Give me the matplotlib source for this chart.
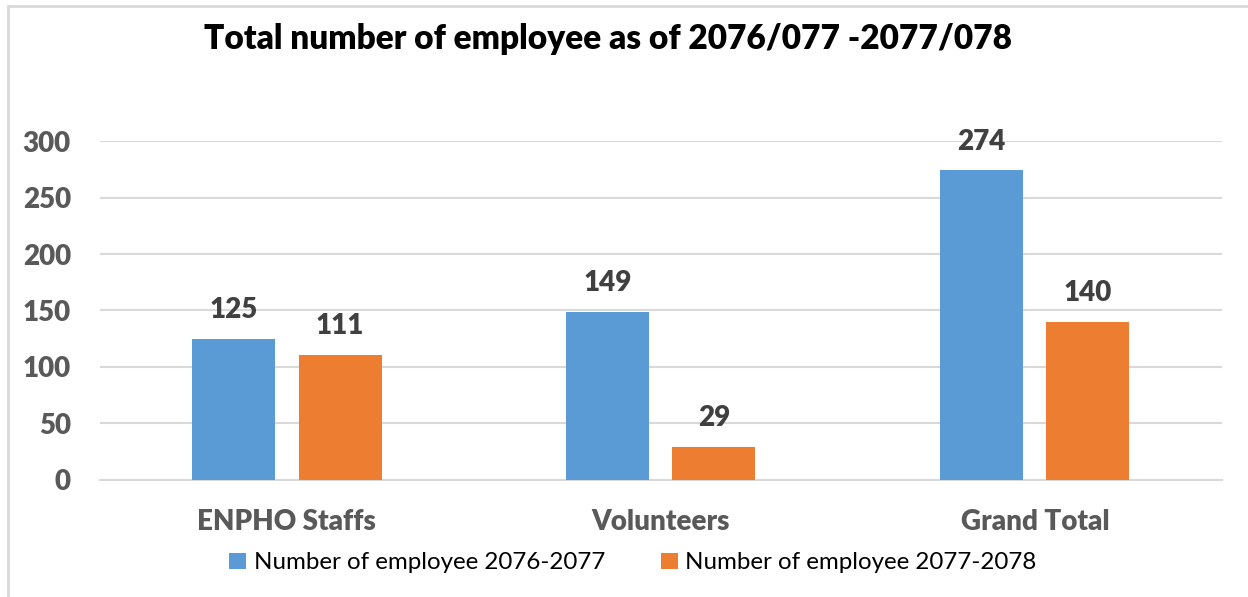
import matplotlib.pyplot as plt
import numpy as np
from matplotlib.patches import Rectangle

# data
categories = ["ENPHO Staffs", "Volunteers", "Grand Total"]
emp_2076 = [125, 149, 274]
emp_2077 = [111, 29, 140]
series_labels = ["Number of employee 2076-2077", "Number of employee 2077-2078"]

blue = "#5b9bd5"
orange = "#ed7d31"

plt.rcParams['font.family'] = ['Lato', 'DejaVu Sans']

fig = plt.figure(figsize=(12.48, 5.97), dpi=100)
ax = fig.add_axes([0.0801, 0.196, 0.979 - 0.0801, 0.7638 - 0.196])

# chart frame (like the Excel chart border)
fig.patches.append(Rectangle((8/1248, -0.05), 1.1, 1 - 6/597 + 0.05,
                             transform=fig.transFigure, fill=False,
                             edgecolor="#d9d9d9", linewidth=2))

x = np.arange(len(categories))
w = 0.222
off = 0.142
b1 = ax.bar(x - off, emp_2076, w, color=blue, label=series_labels[0], zorder=3)
b2 = ax.bar(x + off, emp_2077, w, color=orange, label=series_labels[1], zorder=3)

for bars in (b1, b2):
    for r in bars:
        ax.text(r.get_x() + r.get_width()/2, r.get_height() + 14, str(int(r.get_height())),
                ha="center", va="bottom", fontsize=20, fontweight="heavy", color="#404040")

ax.set_xlim(-0.5, 2.5)
ax.set_ylim(0, 300)
ax.set_yticks(np.arange(0, 301, 50))
ax.set_xticks(x)
ax.set_xticklabels(categories, fontsize=20, fontweight="heavy", color="#595959")
for t in ax.get_yticklabels():
    t.set_fontsize(20)
    t.set_fontweight("heavy")
    t.set_color("#595959")
ax.tick_params(axis="both", length=0)
ax.tick_params(axis="y", pad=21)
ax.tick_params(axis="x", pad=21)
ax.grid(axis="y", color="#d9d9d9", linewidth=1.5, zorder=0)
for s in ["top", "right", "left"]:
    ax.spines[s].set_visible(False)
ax.spines["bottom"].set_color("#d9d9d9")
ax.spines["bottom"].set_linewidth(1.5)

fig.text(0.487, 0.935, "Total number of employee as of 2076/077 -2077/078",
         ha="center", va="center", fontsize=24, fontweight="heavy", color="black")

fig.legend(loc="center", bbox_to_anchor=(0.507, 0.057), ncol=2, frameon=False,
           fontsize=17.4, handlelength=0.7, handleheight=0.7, handletextpad=0.3,
           columnspacing=2.3)

plt.savefig("out.png", dpi=100)
